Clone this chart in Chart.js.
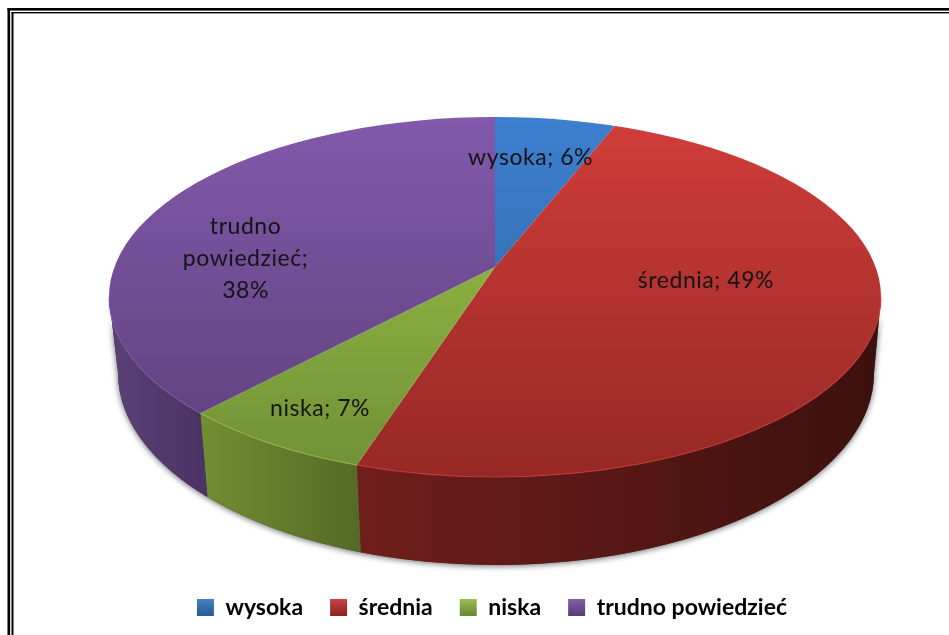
<!DOCTYPE html>
<html><head><meta charset="utf-8">
<style>html,body{margin:0;padding:0;background:#fff;overflow:hidden}canvas{display:block}</style>
<script src="https://cdn.jsdelivr.net/npm/chart.js@4"></script>
</head><body>
<canvas id="c" width="949" height="635"></canvas>
<script>
const categories = ['wysoka', 'średnia', 'niska', 'trudno powiedzieć'];
const values = [6, 49, 7, 38];
const labelLines = [['wysoka; 6%'], ['średnia; 49%'], ['niska; 7%'], ['trudno', 'powiedzieć;', '38%']];
const baseColors = ['#3a77c0', '#b8342f', '#8cad3e', '#74539c'];
const topColors = ['#3d7fd0', '#d03d39', '#a0c548', '#8259ab'];
const bottomColors = ['#2c6298', '#962825', '#6f9036', '#5c3f7a'];
const wallLeft = ['#2c5a8c', '#701e1b', '#718f31', '#5a4278'];
const wallRight = ['#20456c', '#3c100e', '#556a27', '#4b3364'];
const legendTop = ['#4a86cf', '#d24a46', '#a8c858', '#8a66b0'];
const legendBottom = ['#2a5f96', '#8f2624', '#6d8c34', '#59407c'];

// projected geometry of the pie disc
const topE = {x: 495, y: 297, rx: 386, ry: 180};
const botE = {x: 496, y: 373, rx: 378, ry: 192};
const apex = {x: 495, y: 267};
const squash = 0.466;
const labelPlace = [[0.40, 237], [0.433, 213], [0.476, 350], [0.371, 250]];
const labelFont = '23px Lato, sans-serif';
const TAU = Math.PI * 2;

function scaleFactor(arc) { return 470 / arc.outerRadius; }
function faceGradient(chart, i) {
  const a = chart.chartArea;
  if (!a) return baseColors[i];
  const R = Math.min(a.right - a.left, a.bottom - a.top) / 2;
  const k = 470 / R, cy = (a.top + a.bottom) / 2;
  const toLocal = y => cy + (y - apex.y) / (k * squash);
  const g = chart.ctx.createLinearGradient(0, toLocal(117), 0, toLocal(477));
  g.addColorStop(0, topColors[i]);
  g.addColorStop(1, bottomColors[i]);
  return g;
}
function rimParam(angle) {
  const dx = Math.cos(angle), dy = squash * Math.sin(angle);
  const ox = apex.x - topE.x, oy = apex.y - topE.y;
  const A = dx * dx / (topE.rx * topE.rx) + dy * dy / (topE.ry * topE.ry);
  const B = 2 * (ox * dx / (topE.rx * topE.rx) + oy * dy / (topE.ry * topE.ry));
  const C = ox * ox / (topE.rx * topE.rx) + oy * oy / (topE.ry * topE.ry) - 1;
  const u = (-B + Math.sqrt(B * B - 4 * A * C)) / (2 * A);
  let t = Math.atan2((oy + u * dy) / topE.ry, (ox + u * dx) / topE.rx);
  if (t < -Math.PI / 2 - 1e-6) t += TAU;
  return t;
}
function pt(e, t) { return [e.x + e.rx * Math.cos(t), e.y + e.ry * Math.sin(t)]; }
function wallPath(ctx, t1, t2) {
  ctx.beginPath();
  ctx.ellipse(topE.x, topE.y, topE.rx, topE.ry, 0, t1, t2, false);
  ctx.ellipse(botE.x, botE.y, botE.rx, botE.ry, 0, t2, t1, true);
  ctx.closePath();
}
const pie3d = {
  id: 'pie3d',
  beforeDraw(chart) {
    const c = chart.ctx;
    c.save();
    c.fillStyle = '#000';
    c.fillRect(7.5, 8, 2.6, 627);
    c.fillRect(7.5, 8, 942, 2.6);
    c.fillRect(11.5, 12, 2, 623);
    c.fillRect(11.5, 12, 938, 1.4);
    c.restore();
  },
  beforeDatasetsDraw(chart) {
    const c = chart.ctx, arcs = chart.getDatasetMeta(0).data;
    c.save();
    c.shadowColor = 'rgba(0,0,0,0.6)';
    c.shadowBlur = 6;
    c.shadowOffsetY = 1;
    c.fillStyle = '#444';
    wallPath(c, 0, Math.PI);
    c.fill();
    c.restore();
    arcs.forEach((arc, i) => {
      const t1 = Math.max(rimParam(arc.startAngle), 0);
      let t2 = rimParam(arc.endAngle);
      if (i === arcs.length - 1) t2 = 3 * Math.PI / 2;
      const hi = Math.min(t2, Math.PI);
      if (hi <= t1) return;
      const xa = pt(topE, hi)[0], xb = pt(topE, t1)[0];
      const g = c.createLinearGradient(xa, 0, xb, 0);
      g.addColorStop(0, wallLeft[i]);
      g.addColorStop(1, wallRight[i]);
      c.save();
      wallPath(c, t1, hi);
      c.fillStyle = g;
      c.fill();
      c.restore();
    });
  },
  beforeDatasetDraw(chart) {
    const c = chart.ctx, arc = chart.getDatasetMeta(0).data[0];
    const k = scaleFactor(arc);
    c.save();
    c.beginPath();
    c.ellipse(topE.x, topE.y, topE.rx, topE.ry, 0, 0, TAU);
    c.clip();
    c.translate(apex.x, apex.y);
    c.scale(k, k * squash);
    c.translate(-arc.x, -arc.y);
  },
  afterDatasetDraw(chart) {
    chart.ctx.restore();
  },
  afterDatasetsDraw(chart) {
    const c = chart.ctx, arcs = chart.getDatasetMeta(0).data;
    arcs.forEach((arc, i) => {
      const t1 = Math.max(rimParam(arc.startAngle), 0);
      const t2 = Math.min(i === arcs.length - 1 ? TAU : rimParam(arc.endAngle), Math.PI);
      if (t2 > t1) {
        c.save();
        c.beginPath();
        c.ellipse(topE.x, topE.y, topE.rx, topE.ry, 0, t1, t2);
        c.strokeStyle = topColors[i];
        c.globalAlpha = 0.7;
        c.lineWidth = 1.2;
        c.stroke();
        c.restore();
      }
      const [frac, r] = labelPlace[i];
      const a = arc.startAngle + frac * (arc.endAngle - arc.startAngle);
      const lx = apex.x + r * Math.cos(a), ly = apex.y + r * squash * Math.sin(a);
      c.save();
      c.font = labelFont;
      c.letterSpacing = '0.55px';
      c.fillStyle = '#141414';
      c.textAlign = 'center';
      c.textBaseline = 'middle';
      const lines = labelLines[i];
      lines.forEach((s, j) => c.fillText(s, lx, ly + (j - (lines.length - 1) / 2) * 32));
      c.restore();
    });
  }
};
new Chart(document.getElementById('c'), {
  type: 'pie',
  data: {
    labels: categories,
    datasets: [{
      data: values,
      borderWidth: 0,
      backgroundColor: ctx => faceGradient(ctx.chart, ctx.dataIndex)
    }]
  },
  plugins: [pie3d],
  options: {
    responsive: false,
    animation: false,
    devicePixelRatio: 1,
    layout: {padding: {left: 35, top: 20, right: 0, bottom: 6}},
    plugins: {
      tooltip: {enabled: false},
      legend: {
        position: 'bottom',
        labels: {
          boxWidth: 17, boxHeight: 17, padding: 27,
          color: '#1c2640',
          font: {family: 'Lato, sans-serif', size: 23, weight: 'bold'},
          generateLabels(chart) {
            return categories.map((t, i) => {
              const g = chart.ctx.createLinearGradient(0, 596, 0, 614);
              g.addColorStop(0, legendTop[i]);
              g.addColorStop(1, legendBottom[i]);
              return {text: t, fillStyle: g, strokeStyle: legendBottom[i], lineWidth: 0, index: i, hidden: false};
            });
          }
        }
      }
    }
  }
});
</script>
</body></html>
